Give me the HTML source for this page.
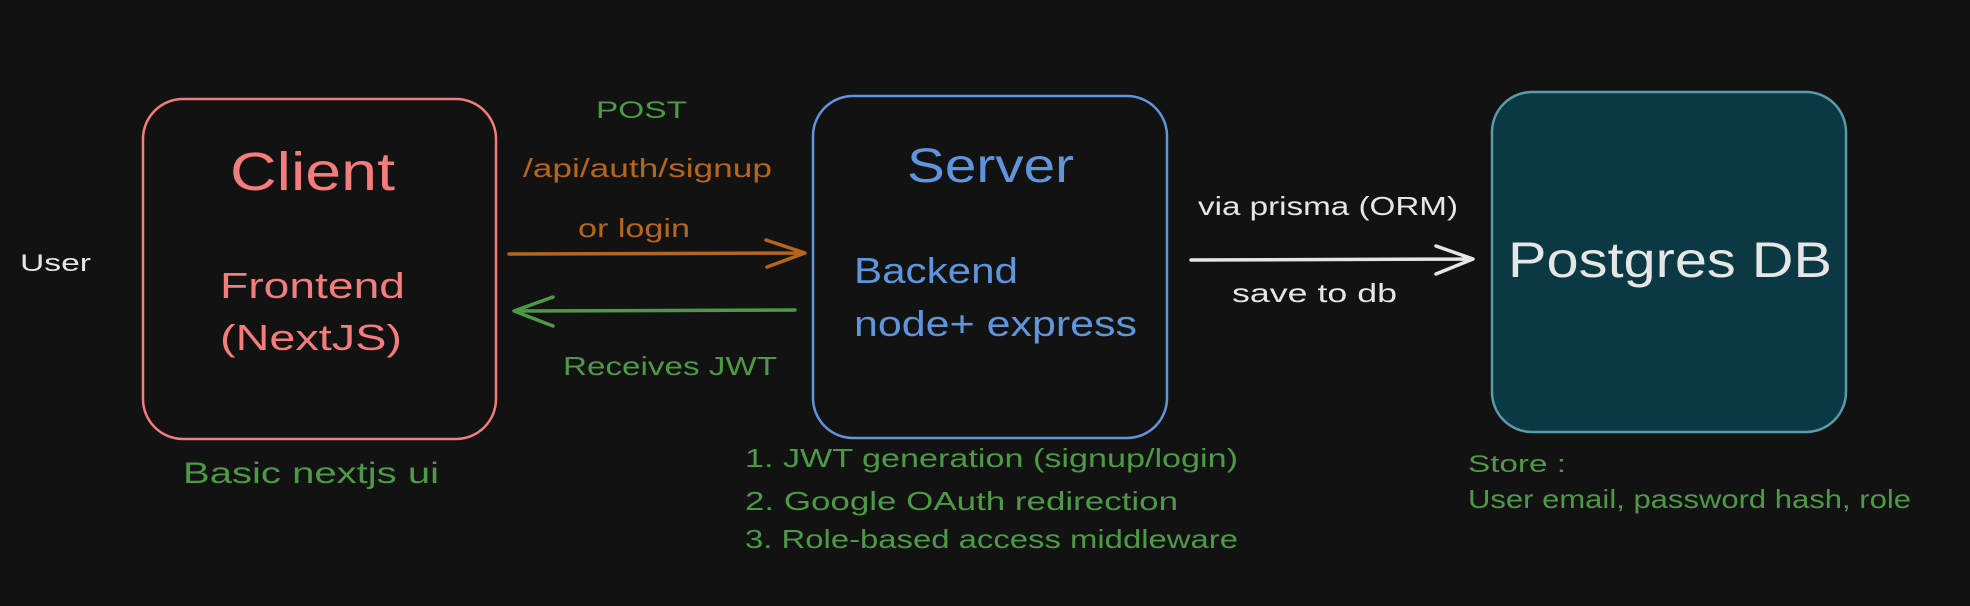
<!DOCTYPE html>
<html><head><meta charset="utf-8"><style>
html,body{margin:0;padding:0;background:#121212;}
svg{display:block}
text{font-family:"Liberation Sans",sans-serif;}
</style></head><body>
<svg width="1970" height="606" viewBox="0 0 1970 606" xmlns="http://www.w3.org/2000/svg">
<rect width="1970" height="606" fill="#121212"/>
<!-- boxes -->
<rect x="143" y="99" width="353" height="340" rx="40" fill="none" stroke="#f47c7c" stroke-width="2.5"/>
<rect x="813" y="96" width="354" height="342" rx="40" fill="none" stroke="#5f95dc" stroke-width="2.5"/>
<rect x="1492" y="92" width="354" height="340" rx="40" fill="#0a3843" stroke="#5a9aaa" stroke-width="2.5"/>
<!-- arrows -->
<g fill="none" stroke-linecap="round" stroke-linejoin="round" stroke-width="3.5">
<path d="M509 254 L804 253 M766 240 L805 253 L767 267" stroke="#b5661b"/>
<path d="M795 310 L514 311 M553 297 L514 311 L553 326" stroke="#4d9a46"/>
<path d="M1191 260 L1472 259 M1436 246 L1473 259 L1436 274" stroke="#e6e6e6"/>
</g>
<!-- text -->
<text x="20" y="271" font-size="24" fill="#e6e6e6" textLength="71" lengthAdjust="spacingAndGlyphs">User</text>
<text x="230" y="190" font-size="54" fill="#f47c7c" textLength="165" lengthAdjust="spacingAndGlyphs">Client</text>
<text x="220" y="298" font-size="36" fill="#f47c7c" textLength="185" lengthAdjust="spacingAndGlyphs">Frontend</text>
<text x="220" y="350" font-size="36" fill="#f47c7c" textLength="182" lengthAdjust="spacingAndGlyphs">(NextJS)</text>
<text x="183" y="483" font-size="30" fill="#4d9a46" textLength="256" lengthAdjust="spacingAndGlyphs">Basic nextjs ui</text>
<text x="596" y="118" font-size="24" fill="#4d9a46" textLength="91" lengthAdjust="spacingAndGlyphs">POST</text>
<text x="523" y="177" font-size="26" fill="#b5661b" textLength="249" lengthAdjust="spacingAndGlyphs">/api/auth/signup</text>
<text x="578" y="237" font-size="26" fill="#b5661b" textLength="112" lengthAdjust="spacingAndGlyphs">or login</text>
<text x="563" y="375" font-size="26" fill="#4d9a46" textLength="214" lengthAdjust="spacingAndGlyphs">Receives JWT</text>
<text x="907" y="182" font-size="48" fill="#5f95dc" textLength="167" lengthAdjust="spacingAndGlyphs">Server</text>
<text x="854" y="283" font-size="36" fill="#5f95dc" textLength="164" lengthAdjust="spacingAndGlyphs">Backend</text>
<text x="854" y="336" font-size="36" fill="#5f95dc" textLength="283" lengthAdjust="spacingAndGlyphs">node+ express</text>
<text x="745" y="467" font-size="26" fill="#4d9a46" textLength="493" lengthAdjust="spacingAndGlyphs">1. JWT generation (signup/login)</text>
<text x="745" y="510" font-size="26" fill="#4d9a46" textLength="433" lengthAdjust="spacingAndGlyphs">2. Google OAuth redirection</text>
<text x="745" y="548" font-size="26" fill="#4d9a46" textLength="493" lengthAdjust="spacingAndGlyphs">3. Role-based access middleware</text>
<text x="1198" y="215" font-size="26" fill="#e6e6e6" textLength="260" lengthAdjust="spacingAndGlyphs">via prisma (ORM)</text>
<text x="1232" y="302" font-size="26" fill="#e6e6e6" textLength="165" lengthAdjust="spacingAndGlyphs">save to db</text>
<text x="1508" y="277" font-size="50" fill="#e6e6e6" textLength="324" lengthAdjust="spacingAndGlyphs">Postgres DB</text>
<text x="1468" y="472" font-size="24" fill="#4d9a46" textLength="98" lengthAdjust="spacingAndGlyphs">Store :</text>
<text x="1468" y="508" font-size="26" fill="#4d9a46" textLength="443" lengthAdjust="spacingAndGlyphs">User email, password hash, role</text>
</svg>
</body></html>
